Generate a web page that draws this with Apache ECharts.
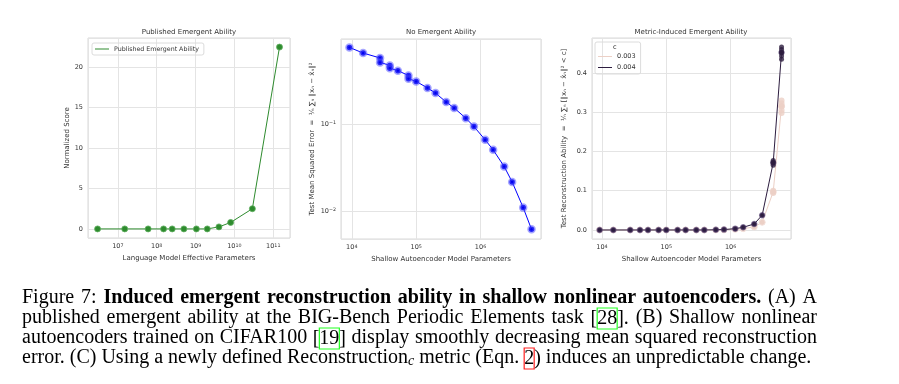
<!DOCTYPE html>
<html><head><meta charset="utf-8">
<script src="https://cdn.jsdelivr.net/npm/echarts@6/dist/echarts.min.js"></script>
<style>html,body{margin:0;padding:0;background:#fff}#c{width:899px;height:384px}</style>
</head><body><div id="c"></div>
<script>
// ---- Data ----
const lmParams = [3e6, 1.5e7, 6e7, 1.5e8, 2.5e8, 5e8, 1.05e9, 2e9, 4e9, 8e9, 2.9e10, 1.45e11];
const lmScore = [0, 0, 0, 0, 0, 0, 0, 0, 0.25, 0.8, 2.5, 22.5];

const aeParams = [9.2e3, 1.5e4, 2.75e4, 3.9e4, 5.2e4, 7.6e4, 1e5, 1.5e5, 2e5, 2.93e5, 3.9e5, 5.9e5, 7.9e5, 1.18e6, 1.57e6, 2.33e6, 3.1e6, 4.6e6, 6.2e6];
const mseRuns = [[0.759], [0.654], [0.574, 0.511], [0.472, 0.439], [0.41], [0.362, 0.332], [0.309], [0.26], [0.227], [0.179], [0.153], [0.117], [0.0938], [0.066], [0.0507], [0.0326], [0.0217], [0.011], [0.0062]];

const recon003 = [0, 0, 0, 0, 0, 0, 0, 0, 0, 0, 0, 0, 0.0003, 0.0017, 0.0034, 0.0077, 0.0197, 0.097, 0.315];
const recon004 = [0, 0, 0, 0, 0, 0, 0, 0, 0, 0, 0, 0.0005, 0.001, 0.0034, 0.0068, 0.0154, 0.0376, 0.171, 0.452];
const runs003At = [17, 17, 18, 18, 18, 18, 18];
const runs003Val = [0.094, 0.1, 0.298, 0.305, 0.315, 0.323, 0.33];
const runs004At = [17, 17, 17, 18, 18, 18, 18, 18];
const runs004Val = [0.165, 0.172, 0.177, 0.435, 0.443, 0.452, 0.46, 0.466];

const panelTitles = ['Published Emergent Ability', 'No Emergent Ability', 'Metric-Induced Emergent Ability'];
const xNames = ['Language Model Effective Parameters', 'Shallow Autoencoder Model Parameters', 'Shallow Autoencoder Model Parameters'];
const yNames = ['Normalized Score',
  'Test Mean Squared Error  =  \u00b9\u2044\u2099 \u2211\u2099 \u2016x\u2099 \u2212 x\u0302\u2099\u2016\u00b2',
  'Test Reconstruction Ability  =  \u00b9\u2044\u2099 \u2211\u2099 [\u2016x\u2099 \u2212 x\u0302\u2099\u2016\u00b2 < c]'];
const captionLines = [
  'Figure 7: {b|Induced emergent reconstruction ability in shallow nonlinear autoencoders.} (A) A',
  'published emergent ability at the BIG-Bench Periodic Elements task [{g|28}]. (B) Shallow nonlinear',
  'autoencoders trained on CIFAR100 [{g|19}] display smoothly decreasing mean squared reconstruction',
  'error. (C) Using a newly defined Reconstruction{sub|c} metric (Eqn. {r|2}) induces an unpredictable change.'
];

// ---- Chart ----
const FONT = 'DejaVu Sans';
const TXT = '#333333';
const GRIDC = '#e4e4e4';
const chart = echarts.init(document.getElementById('c'), null, {renderer: 'canvas'});

function logFmt(v) {
  const e = Math.round(Math.log10(v));
  return '10{sup|' + (e < 0 ? '\u2212' + (-e) : e) + '}';
}
const labelBase = {color: TXT, fontSize: 6.5, fontFamily: FONT};
function logLabel() {
  return Object.assign({}, labelBase, {formatter: logFmt, showMinLabel: false, showMaxLabel: false, margin: 5,
    rich: {sup: {fontSize: 4.8, fontFamily: FONT, color: TXT, verticalAlign: 'top'}}});
}
function valLabel(fmt) {
  return Object.assign({}, labelBase, {formatter: fmt, showMinLabel: false, showMaxLabel: false, margin: 5});
}
const axisCommon = {
  axisLine: {show: false}, axisTick: {show: false},
  splitLine: {show: true, lineStyle: {color: GRIDC, width: 1}},
  nameLocation: 'middle', nameTextStyle: {color: TXT, fontSize: 7, fontFamily: FONT}
};
function ax(extra) { return Object.assign({}, axisCommon, extra); }

const grids = [
  {left: 88, top: 38, width: 202, height: 200},
  {left: 341, top: 39, width: 200, height: 200},
  {left: 592, top: 38, width: 199, height: 201}
].map(g => Object.assign(g, {show: true, borderColor: '#d9d9d9', borderWidth: 1, backgroundColor: '#fff', containLabel: false}));

const titleCenters = [189, 441, 691];
const titles = panelTitles.map((t, i) => ({
  text: t, left: titleCenters[i], top: 29, textAlign: 'center', padding: 0,
  textStyle: {fontSize: 7, fontWeight: 'normal', color: TXT, fontFamily: FONT}
}));

// ---- Caption (justified word placement) ----
const serif = 'Liberation Serif';
const CAP_SIZE = 20, CAP_LEFT = 22, CAP_RIGHT = 817;
const capTops = [288, 308, 328, 348];
const capStyles = {
  n: {fontSize: CAP_SIZE, fontFamily: serif, color: '#000', fontWeight: 'normal'},
  b: {fontSize: CAP_SIZE, fontFamily: serif, color: '#000', fontWeight: 'bold'},
  g: {fontSize: CAP_SIZE, fontFamily: serif, color: '#000', borderColor: '#22ff22', borderWidth: 1.2, padding: [1, 0, 0, 0]},
  r: {fontSize: CAP_SIZE, fontFamily: serif, color: '#000', borderColor: '#ff2020', borderWidth: 1.2, padding: [1, 0, 0, 0]},
  sub: {fontSize: 14, fontStyle: 'italic', fontFamily: serif, color: '#000', verticalAlign: 'bottom'}
};
const mctx = document.createElement('canvas').getContext('2d');
function segWidth(style, text) {
  const s = capStyles[style];
  mctx.font = (s.fontStyle || 'normal') + ' ' + (s.fontWeight || 'normal') + ' ' + s.fontSize + 'px "' + serif + '"';
  return mctx.measureText(text).width;
}
function parseLine(line) {
  const re = /\{(\w+)\|([^}]*)\}|([^{]+)/g;
  const segs = []; let m;
  while ((m = re.exec(line))) {
    if (m[1]) segs.push({style: m[1], text: m[2]}); else segs.push({style: 'n', text: m[3]});
  }
  const words = []; let cur = [];
  segs.forEach(sg => {
    const parts = sg.text.split(' ');
    parts.forEach((p, k) => {
      if (k > 0) { if (cur.length) words.push(cur); cur = []; }
      if (p.length) cur.push({style: sg.style, text: p});
    });
  });
  if (cur.length) words.push(cur);
  return words;
}
captionLines.forEach((line, li) => {
  const words = parseLine(line);
  const widths = words.map(w => w.reduce((a, s) => a + segWidth(s.style, s.text), 0));
  const total = widths.reduce((a, b) => a + b, 0);
  const last = li === captionLines.length - 1;
  const gap = last ? segWidth('n', ' ') : (CAP_RIGHT - CAP_LEFT - total) / (words.length - 1);
  let x = CAP_LEFT;
  words.forEach((w, wi) => {
    titles.push({
      text: w.map(s => '{' + s.style + '|' + s.text + '}').join(''),
      left: x, top: capTops[li], padding: 0,
      textStyle: {fontSize: CAP_SIZE, fontFamily: serif, color: '#000', fontWeight: 'normal', rich: capStyles}
    });
    x += widths[wi] + gap;
  });
});

const mseData = [];
aeParams.forEach((x, i) => mseRuns[i].forEach(v => mseData.push([x, v])));

const option = {
  animation: false,
  backgroundColor: '#ffffff',
  title: titles,
  grid: grids,
  legend: [
    {data: ['Published Emergent Ability'], left: 92, top: 43, orient: 'vertical', icon: 'rect', itemWidth: 14, itemHeight: 1,
     itemStyle: {borderWidth: 0}, borderColor: '#dcdcdc', borderWidth: 1, borderRadius: 2, padding: [3, 5, 3, 3], itemGap: 4,
     textStyle: {fontSize: 6.3, color: TXT, fontFamily: FONT}},
    {data: ['0.003', '0.004'], left: 595, top: 42, orient: 'vertical', icon: 'rect', itemWidth: 14, itemHeight: 1,
     itemStyle: {borderWidth: 0}, borderColor: '#dcdcdc', borderWidth: 1, borderRadius: 2, padding: [11, 5, 3, 3], itemGap: 4,
     textStyle: {fontSize: 6.5, color: TXT, fontFamily: FONT}}
  ],
  graphic: [{type: 'text', left: 613, top: 44, z: 100, style: {text: 'c', fontSize: 6.5, fontFamily: FONT, fill: TXT}}],
  xAxis: [
    ax({gridIndex: 0, type: 'log', logBase: 10, min: 1.7e6, max: 2.7e11, axisLabel: logLabel(), name: xNames[0], nameGap: 15}),
    ax({gridIndex: 1, type: 'log', logBase: 10, min: 6.8e3, max: 8.7e6, axisLabel: logLabel(), name: xNames[1], nameGap: 15}),
    ax({gridIndex: 2, type: 'log', logBase: 10, min: 7.0e3, max: 8.7e6, axisLabel: logLabel(), name: xNames[2], nameGap: 15})
  ],
  yAxis: [
    ax({gridIndex: 0, type: 'value', min: -1.125, max: 23.625, axisLabel: valLabel(v => String(v)), name: yNames[0], nameGap: 14}),
    ax({gridIndex: 1, type: 'log', logBase: 10, min: 0.0048, max: 0.948, axisLabel: logLabel(), name: yNames[1], nameGap: 25}),
    ax({gridIndex: 2, type: 'value', min: -0.023, max: 0.489, axisLabel: valLabel(v => v.toFixed(1)), name: yNames[2], nameGap: 24})
  ],
  series: [
    {name: 'Published Emergent Ability', type: 'line', xAxisIndex: 0, yAxisIndex: 0,
     data: lmParams.map((x, i) => [x, lmScore[i]]),
     lineStyle: {color: '#2e8b2e', width: 1}, symbol: 'circle', symbolSize: 6,
     itemStyle: {color: '#2e8b2e', borderColor: '#5fae5f', borderWidth: 0.8}},
    {name: 'MSE', type: 'line', xAxisIndex: 1, yAxisIndex: 1, data: mseData,
     lineStyle: {color: '#0000ff', width: 1}, symbol: 'circle', symbolSize: 5.5,
     itemStyle: {color: '#0000ee', borderColor: 'rgba(80,80,255,0.5)', borderWidth: 3}},
    {name: '0.003', type: 'line', xAxisIndex: 2, yAxisIndex: 2, z: 2,
     data: aeParams.map((x, i) => [x, recon003[i]]),
     lineStyle: {color: '#ecd0c6', width: 1}, symbol: 'circle', symbolSize: 6,
     itemStyle: {color: '#ecd0c6', borderColor: '#f3e0da', borderWidth: 1}},
    {name: '0.003 runs', type: 'scatter', xAxisIndex: 2, yAxisIndex: 2, z: 2,
     data: runs003At.map((k, i) => [aeParams[k], runs003Val[i]]), symbolSize: 6,
     itemStyle: {color: '#ecd0c6'}},
    {name: '0.004', type: 'line', xAxisIndex: 2, yAxisIndex: 2, z: 3,
     data: aeParams.map((x, i) => [x, recon004[i]]),
     lineStyle: {color: '#2d1d3f', width: 1}, symbol: 'circle', symbolSize: 5,
     itemStyle: {color: '#2d1d3f', borderColor: 'rgba(80,60,110,0.6)', borderWidth: 1.5}},
    {name: '0.004 runs', type: 'scatter', xAxisIndex: 2, yAxisIndex: 2, z: 3,
     data: runs004At.map((k, i) => [aeParams[k], runs004Val[i]]), symbolSize: 5,
     itemStyle: {color: '#2d1d3f'}}
  ]
};
chart.setOption(option);
</script></body></html>
